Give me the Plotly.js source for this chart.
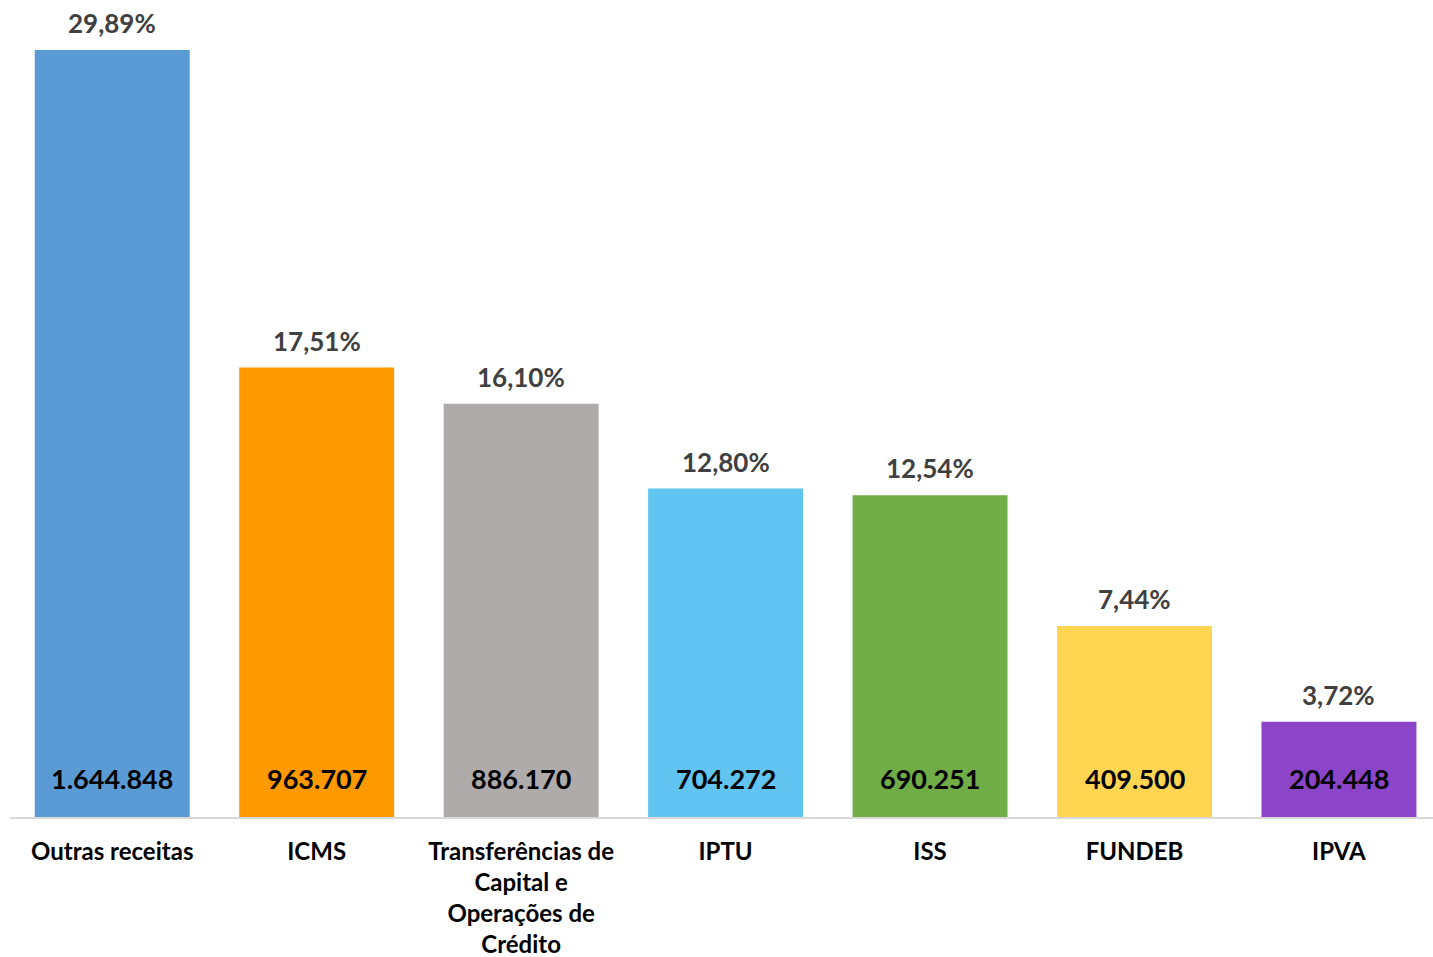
<!DOCTYPE html>
<html>
<head>
<meta charset="utf-8">
<script src="https://cdn.plot.ly/plotly-3.0.1.min.js"></script>
<style>html,body{margin:0;padding:0;background:#fff;}#chart{width:1433px;height:957px;}</style>
</head>
<body>
<div id="chart"></div>
<script>
const categories = ["Outras receitas", "ICMS", "Transferências de<br>Capital e<br>Operações de<br>Crédito", "IPTU", "ISS", "FUNDEB", "IPVA"];
const values = [1644848, 963707, 886170, 704272, 690251, 409500, 204448];
const valueLabels = ["1.644.848", "963.707", "886.170", "704.272", "690.251", "409.500", "204.448"];
const percentLabels = ["29,89%", "17,51%", "16,10%", "12,80%", "12,54%", "7,44%", "3,72%"];
const colors = ["#5B9BD5", "#FF9900", "#AFABAB", "#62C4F0", "#70AD47", "#FFD552", "#8C45C8"];

const FONT = "Lato, 'Open Sans', 'DejaVu Sans', sans-serif";
const idx = categories.map((c, i) => i);

const annotations = [];
idx.forEach(i => {
  annotations.push({
    x: i, y: values[i], xref: 'x', yref: 'y',
    text: '<b>' + percentLabels[i] + '</b>', showarrow: false,
    yanchor: 'bottom', yshift: 9,
    font: {family: FONT, size: 26, color: '#404040'}
  });
  annotations.push({
    x: i, y: 0, xref: 'x', yref: 'y',
    text: '<b>' + valueLabels[i] + '</b>', showarrow: false,
    yanchor: 'bottom', yshift: 20,
    font: {family: FONT, size: 27, color: '#000000'}
  });
});

const trace = {
  type: 'bar',
  x: idx,
  y: values,
  marker: {color: colors, line: {width: 0}},
  width: 0.758,
  hoverinfo: 'skip'
};

const layout = {
  width: 1433, height: 957,
  margin: {l: 10, r: 0, t: 0, b: 140},
  paper_bgcolor: '#ffffff', plot_bgcolor: '#ffffff',
  showlegend: false,
  xaxis: {
    range: [-0.5, 6.46],
    tickmode: 'array', tickvals: idx,
    ticktext: categories.map(c => '<b>' + c + '</b>'),
    tickfont: {family: FONT, size: 24, color: '#000000'},
    ticklabelstandoff: 12,
    showline: true, linecolor: '#D9D9D9', linewidth: 2,
    showgrid: false, zeroline: false, ticks: '', ticklen: 0,
    fixedrange: true
  },
  yaxis: {
    range: [0, 1752070],
    visible: false, showgrid: false, zeroline: false, fixedrange: true
  },
  annotations: annotations
};

Plotly.newPlot('chart', [trace], layout, {displayModeBar: false, staticPlot: true});
</script>
</body>
</html>
